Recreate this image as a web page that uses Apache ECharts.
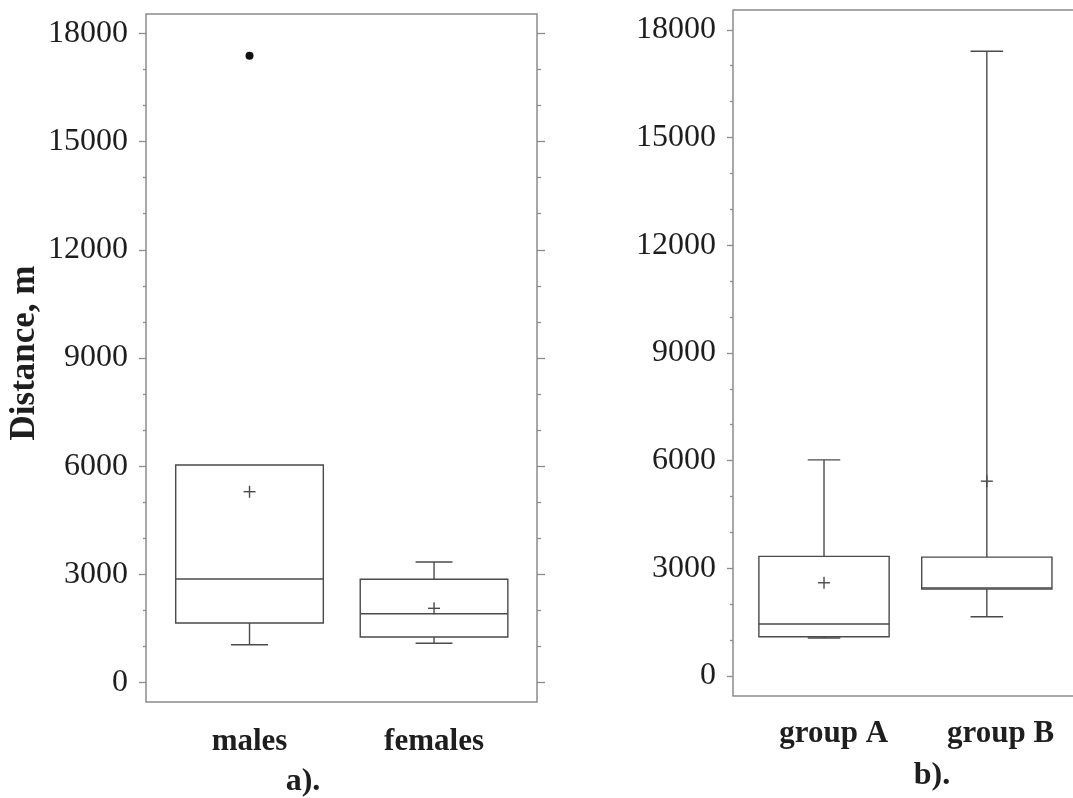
<!DOCTYPE html>
<html>
<head>
<meta charset="utf-8">
<script src="https://cdn.jsdelivr.net/npm/echarts@6/dist/echarts.min.js"></script>
<style>
  html, body { margin: 0; padding: 0; background: #fff; }
  #chart { width: 1073px; height: 798px; }
</style>
</head>
<body>
<div id="chart"></div>
<script>
// panel a) males / females
const catsA = ['males', 'females']
const lowA = [1053, 1092]
const q1A = [1655, 1267]
const medA = [2874, 1912]
const q3A = [6034, 2866]
const highA = [6034, 3345]
const meanA = [5294, 2062]
const outlierA = [[1, 17378]]

// panel b) group A / group B
const catsB = ['group A', 'group B']
const lowB = [1058, 1650]
const q1B = [1094, 2420]
const medB = [1447, 2450]
const q3B = [3331, 3312]
const highB = [6020, 17403]
const meanB = [2597, 5427]

const majorTicks = [0, 3000, 6000, 9000, 12000, 15000, 18000]
const minorTicks = [1000, 2000, 4000, 5000, 7000, 8000, 10000, 11000, 13000, 14000, 16000, 17000]

const serif = "'Liberation Serif', 'Times New Roman', serif"
const frameColor = '#8c8c8c'
const boxColor = '#4a4a4a'

function rows(low, q1, med, q3, high, mean) {
  return low.map((v, i) => [i + 1, v, q1[i], med[i], q3[i], high[i], mean[i]])
}

function renderBox(params, api) {
  const x = api.value(0)
  const lo = api.value(1), q1 = api.value(2), md = api.value(3), q3 = api.value(4), hi = api.value(5), mn = api.value(6)
  const half = 0.4, cap = 0.1
  const p = (dx, v) => api.coord([x + dx, v])
  const style = { stroke: boxColor, lineWidth: 1.4, fill: null }
  const line = (a, b) => ({ type: 'line', shape: { x1: a[0], y1: a[1], x2: b[0], y2: b[1] }, style })
  const tl = p(-half, q3), br = p(half, q1)
  const kids = [
    { type: 'rect', shape: { x: tl[0], y: tl[1], width: br[0] - tl[0], height: br[1] - tl[1] }, style },
    line(p(-half, md), p(half, md)),
  ]
  if (hi > q3) {
    kids.push(line(p(0, q3), p(0, hi)), line(p(-cap, hi), p(cap, hi)))
  }
  if (lo < q1) {
    kids.push(line(p(0, q1), p(0, lo)), line(p(-cap, lo), p(cap, lo)))
  }
  // mean marker
  const c = p(0, mn)
  kids.push(line([c[0] - 6, c[1]], [c[0] + 6, c[1]]), line([c[0], c[1] - 6], [c[0], c[1] + 6]))
  return { type: 'group', children: kids }
}

function yAxes(gridIndex, min, max, side, ticks, len, labels, margin) {
  return {
    type: 'value', gridIndex, min, max, position: side,
    axisLine: { show: false },
    splitLine: { show: false },
    axisTick: { show: true, customValues: ticks, length: len, lineStyle: { color: frameColor, width: 1.3 } },
    axisLabel: labels
      ? { show: true, customValues: ticks, margin, formatter: (v) => String(v),
          color: '#1e1e1e', fontFamily: serif, fontSize: 32 }
      : { show: false },
  }
}

function xAxis(gridIndex, min, max, cats, pos, margin) {
  return {
    type: 'value', gridIndex, min, max,
    axisLine: { show: false },
    axisTick: { show: false },
    splitLine: { show: false },
    axisLabel: {
      customValues: pos,
      margin,
      formatter: (v) => cats[pos.indexOf(v)],
      color: '#1e1e1e', fontFamily: serif, fontWeight: 'bold', fontSize: 31,
    },
  }
}

const chart = echarts.init(document.getElementById('chart'))
const option = {
  animation: false,
  grid: [
    { left: 146, top: 14, width: 391, height: 688, show: true, borderColor: frameColor, borderWidth: 1.5,
      outerBoundsMode: 'none' },
    { left: 733, top: 10, width: 345, height: 686, show: true, borderColor: frameColor, borderWidth: 1.5,
      outerBoundsMode: 'none' },
  ],
  xAxis: [
    xAxis(0, 0.439, 2.558, catsA, [1, 2], 24),
    xAxis(1, 0.441, 2.56, catsB, [1.06, 2.085], 22),
  ],
  yAxis: [
    yAxes(0, -535, 18535, 'left', majorTicks, 7, true, 18),
    yAxes(0, -535, 18535, 'left', minorTicks, 3, false),
    yAxes(0, -535, 18535, 'right', majorTicks, 8, false),
    yAxes(0, -535, 18535, 'right', minorTicks, 4, false),
    yAxes(1, -557, 18551, 'left', majorTicks, 6, true, 17),
    yAxes(1, -557, 18551, 'left', minorTicks, 3, false),
  ],
  series: [
    {
      type: 'custom', xAxisIndex: 0, yAxisIndex: 0,
      data: rows(lowA, q1A, medA, q3A, highA, meanA),
      encode: { x: 0, y: [1, 2, 3, 4, 5] },
      renderItem: renderBox,
    },
    {
      type: 'scatter', xAxisIndex: 0, yAxisIndex: 0,
      data: outlierA, symbol: 'circle', symbolSize: 8,
      itemStyle: { color: '#111', opacity: 1 },
    },
    {
      type: 'custom', xAxisIndex: 1, yAxisIndex: 4,
      data: rows(lowB, q1B, medB, q3B, highB, meanB),
      encode: { x: 0, y: [1, 2, 3, 4, 5] },
      renderItem: renderBox,
    },
  ],
  graphic: [
    {
      type: 'text', x: 25, y: 353, rotation: Math.PI / 2,
      style: { text: 'Distance, m', align: 'center', verticalAlign: 'middle', fill: '#1e1e1e',
        font: 'bold 35px ' + serif },
    },
    {
      type: 'text', x: 303, y: 782,
      style: { text: 'a).', align: 'center', verticalAlign: 'middle', fill: '#1e1e1e', font: 'bold 32px ' + serif },
    },
    {
      type: 'text', x: 932, y: 776,
      style: { text: 'b).', align: 'center', verticalAlign: 'middle', fill: '#1e1e1e', font: 'bold 32px ' + serif },
    },
  ],
}
chart.setOption(option)
</script>
</body>
</html>
